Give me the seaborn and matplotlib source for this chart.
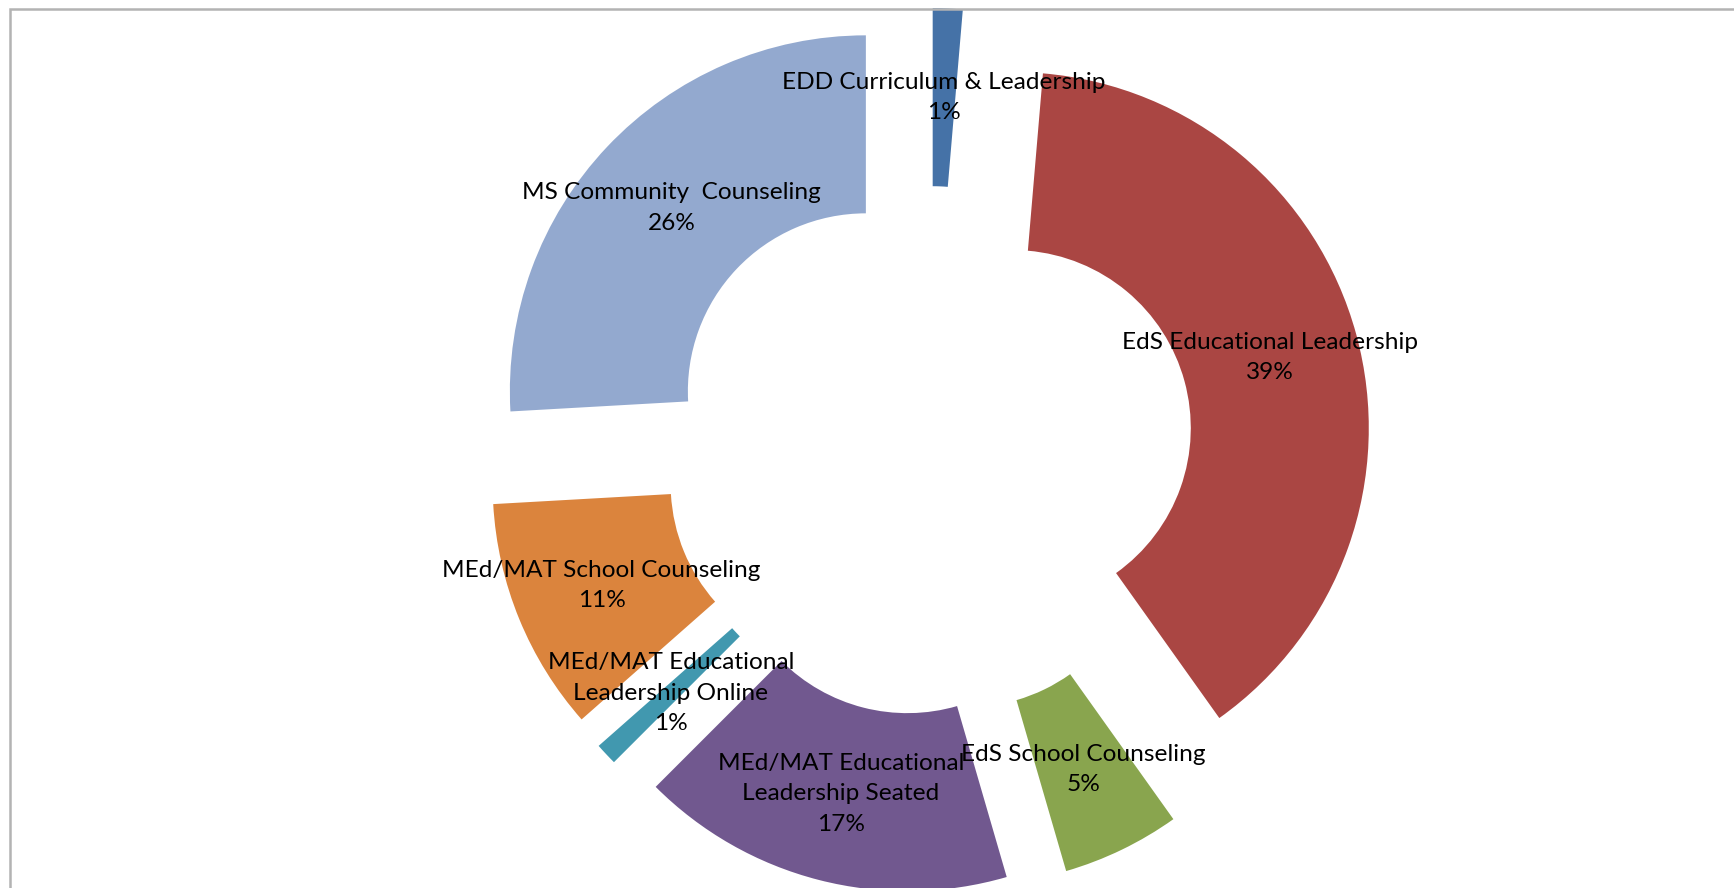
import matplotlib
matplotlib.use("Agg")
import matplotlib.pyplot as plt
import seaborn as sns
import numpy as np
from matplotlib.patches import Rectangle

categories = [
    "EDD Curriculum & Leadership",
    "EdS Educational Leadership",
    "EdS School Counseling",
    "MEd/MAT Educational\nLeadership Seated",
    "MEd/MAT Educational\nLeadership Online",
    "MEd/MAT School Counseling",
    "MS Community  Counseling",
]
values = [1.35, 38.8, 5.35, 17.0, 1.0, 10.6, 25.9]
colors = ["#4572A7", "#AA4643", "#89A54E", "#71588F", "#4198AF", "#DB843D", "#93A9CF"]

sns.set_theme(style="white")
plt.rcParams["font.family"] = ["Lato", "DejaVu Sans"]
palette = sns.color_palette(colors)

W, H = 1734, 888
fig = plt.figure(figsize=(W / 100, H / 100), dpi=100)
ax = fig.add_axes([0, 0, 1, 1])

cx_px, cy_px, R_px = 929, 451, 356
explode = [0.244] * len(values)
wedges, _ = ax.pie(values, colors=palette, startangle=90, counterclock=False,
                   explode=explode, radius=1.0,
                   wedgeprops=dict(width=0.5, linewidth=0))

ax.set_aspect("auto")
ax.set_xlim(-cx_px / R_px, (W - cx_px) / R_px)
ax.set_ylim(-(H - cy_px) / R_px, cy_px / R_px)
ax.axis("off")

total = sum(values)
for w, cat, v in zip(wedges, categories, values):
    th = np.deg2rad((w.theta1 + w.theta2) / 2)
    rmid = w.r - w.width / 2
    x = w.center[0] + rmid * np.cos(th)
    y = w.center[1] + rmid * np.sin(th)
    ax.text(x, y, f"{cat}\n{round(100 * v / total)}%", ha="center", va="center",
            fontsize=17.6, color="black", linespacing=1.55)

# chart-area border (top and left visible)
fig.patches.append(Rectangle((9.5 / W, -0.1), 1.2, (H - 9.5) / H + 0.1,
                             transform=fig.transFigure, fill=False,
                             edgecolor="#B3B3B3", linewidth=1.8))

fig.savefig("out.png", dpi=100)
